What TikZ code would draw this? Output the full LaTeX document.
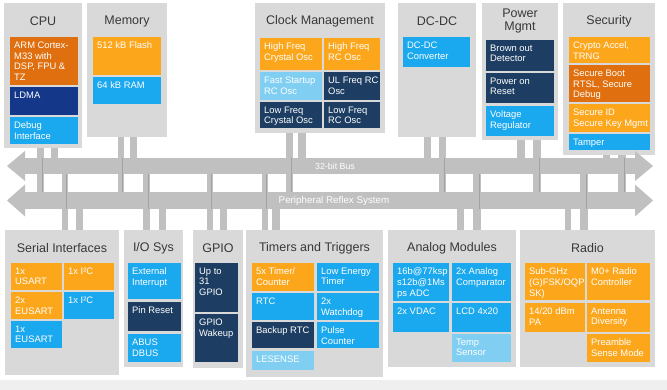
\documentclass[tikz,border=0pt]{standalone}
\usepackage{fontspec}
\setmainfont{Liberation Sans}
\usetikzlibrary{calc}

\definecolor{panelgray}{HTML}{D9D9D9}
\definecolor{busgray}{HTML}{C0C0C0}
\definecolor{busline}{HTML}{A2A2A2}
\definecolor{stripgray}{HTML}{EFEFEF}
\definecolor{titlegray}{HTML}{383838}
\definecolor{cOrange}{HTML}{FCA61C}
\definecolor{cDarkOrange}{HTML}{E0700F}
\definecolor{cNavy}{HTML}{14378A}
\definecolor{cSlate}{HTML}{1D3E62}
\definecolor{cBlue}{HTML}{1AA8EE}
\definecolor{cLight}{HTML}{80CFF3}

% a grey group panel with its title
\newcommand\blockpanel[6]{%
  \node[panel, minimum width={(#4-#2)*1pt}, minimum height={(#5-#3)*1pt}] (#1) at (#2,#3) {};
  \node[ptitle] (#1-title) at ($(#1.north)+(0,18)$) {#6};}
% a coloured function block, text set top left
\newcommand\blockcell[7]{%
  \node[cellbox, fill=#6, minimum width={(#4-#2)*1pt}, minimum height={(#5-#3)*1pt}] (#1) at (#2,#3) {};
  \node[celltext] (#1-t) at ($(#1.north west)+(4,4.5)$) {#7};}

\begin{document}
\begin{tikzpicture}[x=1pt,y=-1pt,
  panel/.style={fill=panelgray, anchor=north west, inner sep=0pt, outer sep=0pt},
  ptitle/.style={text=titlegray, font=\fontsize{12.5}{13.5}\selectfont, align=center, inner sep=0pt},
  cellbox/.style={anchor=north west, inner sep=0pt, outer sep=0pt},
  celltext/.style={anchor=north west, inner sep=0pt, align=left, text=white,
                   font=\fontsize{9.4}{10.8}\selectfont},
  bar/.style={fill=busgray},
  barline/.style={draw=busline, line width=0.6pt},
  busbody/.style={fill=busgray, inner sep=0pt, outer sep=0pt, text=white}]

\fill[white] (0,0) rectangle (667,390);
\useasboundingbox (0,0) rectangle (667,390);
\fill[stripgray] (0,380) rectangle (667,390);

% ---- upper groups
\blockpanel{cpu}{4}{3}{82}{148}{CPU}
\blockpanel{mem}{87}{3}{167}{137}{Memory}
\blockpanel{clk}{255}{3}{385}{133}{Clock Management}
\blockpanel{dcdc}{398}{3}{476}{137}{DC-DC}
\blockpanel{pwr}{482}{3}{558}{140}{Power\\Mgmt}
\blockpanel{sec}{563}{3}{655}{155}{Security}

% ---- lower groups
\blockpanel{ser}{5}{230}{119}{375}{Serial Interfaces}
\blockpanel{io}{124}{230}{183}{367}{I/O Sys}
\blockpanel{gpio}{193}{230}{243}{368}{GPIO}
\blockpanel{tmr}{246}{230}{383}{377}{Timers and Triggers}
\blockpanel{ana}{388}{230}{516}{367}{Analog Modules}
\blockpanel{rad}{520}{230}{655}{367}{Radio}

% ---- CPU
\blockcell{core}{10}{37}{78}{85}{cDarkOrange}{ARM Cortex-\\M33 with\\DSP, FPU \&\\TZ}
\blockcell{ldma}{10}{87}{78}{115}{cNavy}{LDMA}
\blockcell{dbg}{10}{117}{78}{144}{cBlue}{Debug\\Interface}
% ---- Memory
\blockcell{flash}{93}{37}{161}{75}{cOrange}{512 kB Flash}
\blockcell{ram}{93}{77}{161}{104}{cBlue}{64 kB RAM}
% ---- Clock management
\blockcell{hfxo}{260}{38}{322}{70}{cOrange}{High Freq\\Crystal Osc}
\blockcell{hfrco}{324}{38}{380}{70}{cOrange}{High Freq\\RC Osc}
\blockcell{fsrco}{260}{72}{322}{100}{cLight}{Fast Startup\\RC Osc}
\blockcell{ulfrco}{324}{72}{380}{100}{cSlate}{UL Freq RC\\Osc}
\blockcell{lfxo}{260}{102}{322}{128}{cSlate}{Low Freq\\Crystal Osc}
\blockcell{lfrco}{324}{102}{380}{128}{cSlate}{Low Freq\\RC Osc}
% ---- DC-DC
\blockcell{conv}{403}{37}{470}{67}{cBlue}{DC-DC\\Converter}
% ---- Power management
\blockcell{bod}{486}{40}{554}{71}{cSlate}{Brown out\\Detector}
\blockcell{por}{486}{73}{554}{103}{cSlate}{Power on\\Reset}
\blockcell{vreg}{486}{106}{554}{136}{cBlue}{Voltage\\Regulator}
% ---- Security
\blockcell{crypto}{569}{37}{650}{63}{cOrange}{Crypto Accel,\\TRNG}
\blockcell{sboot}{569}{65}{650}{102}{cDarkOrange}{Secure Boot\\RTSL, Secure\\Debug}
\blockcell{sid}{569}{104}{650}{132}{cOrange}{Secure ID\\Secure Key Mgmt}
\blockcell{tamper}{569}{134}{650}{150}{cBlue}{Tamper}

% ---- Serial interfaces
\blockcell{usart}{11}{263}{62}{290}{cOrange}{1x\\USART}
\blockcell{itwoca}{64}{263}{114}{290}{cOrange}{1x I²C}
\blockcell{eusarta}{11}{292}{62}{319}{cOrange}{2x\\EUSART}
\blockcell{itwocb}{64}{292}{114}{319}{cBlue}{1x I²C}
\blockcell{eusartb}{11}{321}{62}{348}{cBlue}{1x\\EUSART}
% ---- I/O
\blockcell{extint}{128}{263}{181}{299}{cBlue}{External\\Interrupt}
\blockcell{pinrst}{128}{302}{181}{331}{cSlate}{Pin Reset}
\blockcell{abus}{128}{334}{181}{362}{cBlue}{ABUS\\DBUS}
% ---- GPIO
\blockcell{gpios}{195}{263}{238}{312}{cSlate}{Up to\\31\\GPIO}
\blockcell{gpiowu}{195}{314}{238}{362}{cSlate}{GPIO\\Wakeup}
% ---- Timers and triggers
\blockcell{timer}{252}{263}{314}{291}{cOrange}{5x Timer/\\Counter}
\blockcell{letimer}{317}{263}{379}{291}{cBlue}{Low Energy\\Timer}
\blockcell{rtc}{252}{293}{314}{320}{cBlue}{RTC}
\blockcell{wdog}{317}{293}{379}{320}{cBlue}{2x\\Watchdog}
\blockcell{brtc}{252}{322}{314}{348}{cSlate}{Backup RTC}
\blockcell{pcnt}{317}{322}{379}{348}{cBlue}{Pulse\\Counter}
\blockcell{lesense}{252}{351}{314}{370}{cLight}{LESENSE}
% ---- Analog modules
\blockcell{adc}{393}{263}{449}{301}{cBlue}{16b@77ksp\\s12b@1Ms\\ps ADC}
\blockcell{acmp}{452}{263}{511}{301}{cBlue}{2x Analog\\Comparator}
\blockcell{vdac}{393}{303}{449}{332}{cBlue}{2x VDAC}
\blockcell{lcd}{452}{303}{511}{332}{cBlue}{LCD 4x20}
\blockcell{temp}{452}{334}{511}{362}{cLight}{Temp\\Sensor}
% ---- Radio
\blockcell{subg}{525}{263}{585}{300}{cOrange}{Sub-GHz\\(G)FSK/OQP\\SK)}
\blockcell{mzero}{587}{263}{650}{300}{cOrange}{M0+ Radio\\Controller}
\blockcell{pa}{525}{303}{585}{332}{cOrange}{14/20 dBm\\PA}
\blockcell{antdiv}{587}{303}{650}{332}{cOrange}{Antenna\\Diversity}
\blockcell{psm}{587}{334}{650}{362}{cOrange}{Preamble\\Sense Mode}

% ---- the two buses (bodies first, so the bars can refer to them)
\coordinate (busc) at (330,166);
\coordinate (prsc) at (330,200.5);
\path (busc) node[minimum width=610pt, minimum height=16pt, inner sep=0pt, outer sep=0pt] (bus) {};
\path (prsc) node[minimum width=610pt, minimum height=17pt, inner sep=0pt, outer sep=0pt] (prs) {};

% ---- bars from the upper groups down to the buses
\fill[bar] (37,0 |- cpu.south) rectangle (44,0 |- prs.north);
\fill[bar] (51,0 |- cpu.south) rectangle (58,0 |- bus.north);
\fill[bar] (118,0 |- mem.south) rectangle (124,0 |- prs.north);
\fill[bar] (130,0 |- mem.south) rectangle (137,0 |- bus.north);
\fill[bar] (286,0 |- clk.south) rectangle (293,0 |- prs.north);
\fill[bar] (298,0 |- clk.south) rectangle (306,0 |- bus.north);
\fill[bar] (424,0 |- dcdc.south) rectangle (431,0 |- bus.north);
\fill[bar] (439,0 |- dcdc.south) rectangle (446,0 |- prs.north);
\fill[bar] (517,0 |- pwr.south) rectangle (525,0 |- bus.north);
\fill[bar] (533,0 |- pwr.south) rectangle (541,0 |- prs.north);
\fill[bar] (603,0 |- sec.south) rectangle (610,0 |- bus.north);
\fill[bar] (618,0 |- sec.south) rectangle (626,0 |- prs.north);

% ---- bars from the buses down to the lower groups
\fill[bar] (62,0 |- bus.south) rectangle (68,0 |- ser.north);
\fill[bar] (76,0 |- prs.south) rectangle (83,0 |- ser.north);
\fill[bar] (143,0 |- bus.south) rectangle (150,0 |- io.north);
\fill[bar] (159,0 |- prs.south) rectangle (166,0 |- io.north);
\fill[bar] (207,0 |- bus.south) rectangle (213,0 |- gpio.north);
\fill[bar] (220,0 |- prs.south) rectangle (227,0 |- gpio.north);
\fill[bar] (262,0 |- bus.south) rectangle (268,0 |- tmr.north);
\fill[bar] (272,0 |- prs.south) rectangle (280,0 |- tmr.north);
\fill[bar] (457,0 |- prs.south) rectangle (464,0 |- ana.north);
\fill[bar] (473,0 |- bus.south) rectangle (481,0 |- ana.north);
\fill[bar] (565,0 |- prs.south) rectangle (571,0 |- rad.north);
\fill[bar] (580,0 |- bus.south) rectangle (588,0 |- rad.north);

% ---- 32-bit bus
\node[busbody, minimum width=610pt, minimum height=16pt] (busbody) at (busc) {};
\node[text=white, font=\fontsize{8.8}{10}\selectfont, inner sep=0pt] (buslabel)
      at ($(busbody.center)+(5,0)$) {32-bit Bus};
\fill[busgray] (busbody.north west) -- ++(0,-7) -- (7,0 |- busbody.west)
   -- ($(busbody.south west)+(0,7)$) -- (busbody.south west) -- cycle;
\fill[busgray] (busbody.north east) -- ++(0,-7) -- (653,0 |- busbody.east)
   -- ($(busbody.south east)+(0,7)$) -- (busbody.south east) -- cycle;

% ---- peripheral reflex system
\node[busbody, minimum width=610pt, minimum height=17pt] (prsbody) at (prsc) {};
\node[text=white, font=\fontsize{9.8}{11}\selectfont, inner sep=0pt] (prslabel)
      at ($(prsbody.center)+(4,0)$) {Peripheral Reflex System};
\fill[busgray] (prsbody.north west) -- ++(0,-7.5) -- (7,0 |- prsbody.west)
   -- ($(prsbody.south west)+(0,7.5)$) -- (prsbody.south west) -- cycle;
\fill[busgray] (prsbody.north east) -- ++(0,-7.5) -- (653,0 |- prsbody.east)
   -- ($(prsbody.south east)+(0,7.5)$) -- (prsbody.south east) -- cycle;

% ---- seams where the long bars cross the buses
\foreach \x in {42.5,122.5,291.5,444.5,539.5,624.5}
  \draw[barline] (\x,0 |- bus.north) -- (\x,0 |- prs.north);
\foreach \x in {66.5,148.5,211.5,266.5,479.5,586.5}
  \draw[barline] (\x,0 |- bus.south) -- (\x,0 |- prs.south);

\end{tikzpicture}
\end{document}
